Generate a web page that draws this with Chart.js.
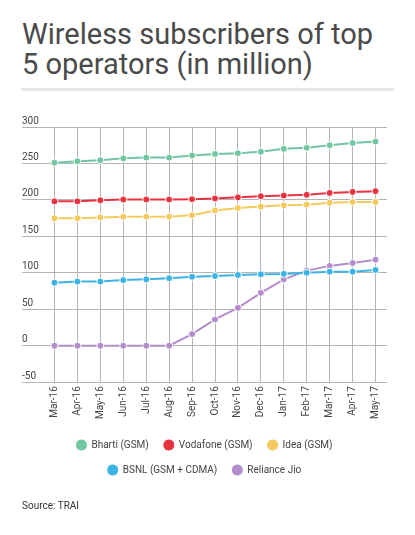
<!DOCTYPE html>
<html>
<head>
<meta charset="utf-8">
<script src="https://cdn.jsdelivr.net/npm/chart.js@4/dist/chart.umd.min.js"></script>
<style>
    body { margin: 0; background: #fff; font-family: Roboto, sans-serif; }
    #title { position: absolute; left: 22px; top: 20px; font-size: 29px; line-height: 29.5px; font-weight: 400; color: #4a4a4a; white-space: nowrap; }
    #rule { position: absolute; left: 21px; top: 88px; width: 373px; height: 3px; background: #e6e6e6; }
    #wrap { position: absolute; left: 0; top: 100px; width: 415px; height: 410px; }
    #source { position: absolute; left: 22px; top: 500px; font-size: 10px; line-height: 12px; color: #333; }
</style>
</head>
<body>
<div id="title">Wireless subscribers of top<br>5 operators (in million)</div>
<div id="rule"></div>
<div id="wrap"><canvas id="chart"></canvas></div>
<div id="source">Source: TRAI</div>
<script>
var months = ['Mar-16', 'Apr-16', 'May-16', 'Jun-16', 'Jul-16', 'Aug-16', 'Sep-16', 'Oct-16',
              'Nov-16', 'Dec-16', 'Jan-17', 'Feb-17', 'Mar-17', 'Apr-17', 'May-17']
var bharti   = [251, 253, 254.5, 257, 258, 258, 261, 263, 264, 266, 270, 271.5, 275, 278, 280]
var vodafone = [198, 198, 199.5, 200.5, 200.5, 200.5, 201, 202, 203.5, 205, 206, 207, 209.5, 211, 212]
var idea     = [175, 175, 176, 177, 177, 177, 179, 185.5, 189, 191, 192.5, 193.5, 196, 197, 197]
var bsnl     = [86.5, 88, 88, 90, 91, 92.5, 94.5, 95.5, 97, 98, 98.5, 100, 101.5, 101.5, 104]
var jio      = [0, 0, 0, 0, 0, 0, 16, 36, 52, 72.5, 91, 103, 109.5, 113.5, 118]
var yTicks   = { min: -50, max: 300, step: 50 }

function series(label, data, color) {
    return {
        label               : label,
        data                : data,
        borderColor         : color,
        backgroundColor     : color,
        borderWidth         : 2,
        pointRadius         : 3.5,
        pointHoverRadius    : 3.5,
        pointBackgroundColor: color,
        pointBorderColor    : '#fff',
        pointBorderWidth    : 1,
        tension             : 0
    }
}

var gridColor = '#b4b4b4'
var textColor = '#444'

// small shift of the legend box below the month labels
var legendNudge = {
    id: 'legendNudge',
    afterLayout: function (chart) {
        chart.legend.top += 2
        chart.legend.bottom += 2
    }
}

new Chart(document.getElementById('chart').getContext('2d'), {
    type: 'line',
    data: {
        labels: months,
        datasets: [
            series('Bharti (GSM)', bharti, '#72c6a1'),
            series('Vodafone (GSM)', vodafone, '#e8323f'),
            series('Idea (GSM)', idea, '#f4ca5e'),
            series('BSNL (GSM + CDMA)', bsnl, '#3cb3e6'),
            series('Reliance Jio', jio, '#b38ccb')
        ]
    },
    plugins: [legendNudge],
    options: {
        responsive: true,
        maintainAspectRatio: false,
        animation: false,
        layout: { padding: { left: 22, right: 28, top: 27, bottom: 27 } },
        plugins: {
            tooltip: { enabled: false },
            legend: {
                position: 'bottom',
                labels: {
                    usePointStyle: true,
                    pointStyle: 'circle',
                    boxHeight: 8.5,
                    padding: 15,
                    color: textColor,
                    font: { family: 'Roboto', size: 10 }
                }
            }
        },
        scales: {
            x: {
                offset: true,
                border: { display: false },
                grid: { offset: false, color: gridColor, drawTicks: false },
                ticks: {
                    minRotation: 90, maxRotation: 90, autoSkip: false, padding: 4,
                    color: textColor, font: { family: 'Roboto', size: 10 }
                }
            },
            y: {
                min: yTicks.min,
                max: yTicks.max,
                border: { display: false },
                grid: { color: gridColor, tickLength: 21 },
                ticks: {
                    stepSize: yTicks.step,
                    crossAlign: 'far',
                    labelOffset: -6,
                    color: textColor,
                    font: { family: 'Roboto', size: 10 }
                },
                afterFit: function (scale) { scale.width = 21 }
            }
        }
    }
})
</script>
</body>
</html>
